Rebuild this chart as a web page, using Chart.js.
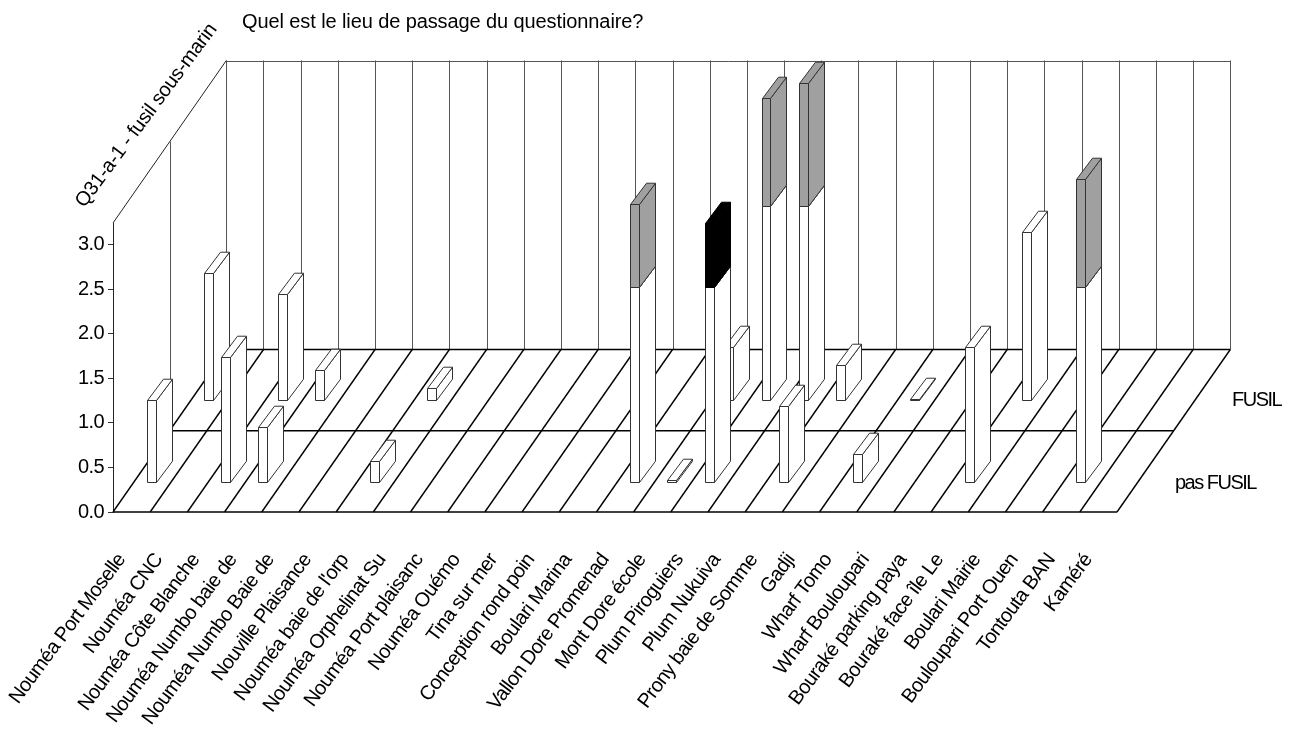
<!DOCTYPE html>
<html>
<head>
<meta charset="utf-8">
<title>Quel est le lieu de passage du questionnaire?</title>
<script src="https://cdn.jsdelivr.net/npm/chart.js@4/dist/chart.umd.js"></script>
<style>
  body { margin: 0; background: #fff; }
  #wrap { width: 1290px; height: 731px; }
</style>
</head>
<body>
<div id="wrap"><canvas id="chart" width="1290" height="731"></canvas></div>
<script>
const categories = [
  "Nouméa Port Moselle", "Nouméa CNC", "Nouméa Côte Blanche", "Nouméa Numbo baie de",
  "Nouméa Numbo Baie de", "Nouville Plaisance", "Nouméa baie de l'orp", "Nouméa Orphelinat Su",
  "Nouméa Port plaisanc", "Nouméa Ouémo", "Tina sur mer", "Conception rond poin",
  "Boulari Marina", "Vallon Dore Promenad", "Mont Dore école", "Plum Piroguiers",
  "Plum Nukuiva", "Prony baie de Somme", "Gadji", "Wharf Tomo", "Wharf Bouloupari",
  "Bouraké parking paya", "Bouraké face île Le", "Boulari Mairie", "Bouloupari Port Ouen",
  "Tontouta BAN", "Kaméré"
];
const rowLabels = ["pas FUSIL", "FUSIL"];
const chartTitle = "Quel est le lieu de passage du questionnaire?";
const depthTitle = "Q31-a-1 - fusil sous-marin";

// values per place, front row = pas FUSIL, back row = FUSIL
const _ = null;
const frontWhite = [0.92, _, 1.41, 0.62, _, _, 0.24, _, _, _, _, _, _, 2.19, 0.02, 2.19, _, 0.86, _, 0.32, _, _, 1.52, _, _, 2.19, _];
const frontGray  = [_, _, _, _, _, _, _, _, _, _, _, _, _, 0.94, _, _, _, _, _, _, _, _, _, _, _, 1.21, _];
const frontBlack = [_, _, _, _, _, _, _, _, _, _, _, _, _, _, _, 0.72, _, _, _, _, _, _, _, _, _, _, _];
const backWhite  = [1.43, _, 1.20, 0.34, _, _, 0.14, _, _, _, _, _, _, _, 0.60, 2.19, 2.19, 0.40, _, 0.02, _, _, 1.89, _, _, _, _];
const backGray   = [_, _, _, _, _, _, _, _, _, _, _, _, _, _, _, 1.21, 1.38, _, _, _, _, _, _, _, _, _, _];

const yTop = 3.245;
const depthX = 113.3, depthY = 162.5;   // floor vector, front edge to back edge
const barDepthX = 0.141, barDepthY = 0.131;  // share of the floor depth
const rowFront = 0.183, rowBack = 0.685;
const family = '"Liberation Sans", Arial, sans-serif';
const font = "20px " + family;

const snap = v => Math.round(v) + 0.5;

function line(ctx, x1, y1, x2, y2) {
  ctx.beginPath();
  ctx.moveTo(x1, y1);
  ctx.lineTo(x2, y2);
  ctx.stroke();
}

function poly(ctx, pts, fill, edge) {
  ctx.beginPath();
  pts.forEach((p, i) => i ? ctx.lineTo(p[0], p[1]) : ctx.moveTo(p[0], p[1]));
  ctx.closePath();
  ctx.fillStyle = fill;
  ctx.fill();
  ctx.strokeStyle = edge;
  ctx.stroke();
}

// bar with a side and a top face, placed on its row of the floor
class PrismController extends Chart.BarController {
  draw() {
    const ctx = this.chart.ctx;
    const ds = this.getDataset();
    const dx = barDepthX * depthX, dy = barDepthY * depthY;
    ctx.save();
    ctx.lineWidth = 1;
    this._cachedMeta.data.forEach((bar, i) => {
      if (ds.data[i] == null) return;
      const mid = bar.x - 1 + ds.row * depthX;
      const x0 = snap(mid - bar.width / 2);
      const x1 = snap(mid + bar.width / 2);
      const top = snap(bar.y - ds.row * depthY);
      const bot = snap(bar.base - ds.row * depthY);
      const x2 = snap(x1 + dx);
      poly(ctx, [[x1, top], [x2, top - dy], [x2, bot - dy], [x1, bot]], ds.backgroundColor, ds.borderColor);
      poly(ctx, [[x0, top], [x0 + dx, top - dy], [x2, top - dy], [x1, top]], ds.backgroundColor, ds.borderColor);
      poly(ctx, [[x0, top], [x1, top], [x1, bot], [x0, bot]], ds.backgroundColor, ds.borderColor);
    });
    ctx.restore();
  }
}
PrismController.id = "prism";
PrismController.defaults = Chart.BarController.defaults;
Chart.register(PrismController);

// walls, floor and the texts that have no axis of their own
const roomPlugin = {
  id: "room",
  beforeDraw(chart) {
    chart.ctx.letterSpacing = "-0.6px";
  },
  beforeDatasetsDraw(chart) {
    const { ctx, scales: { x, y } } = chart;
    const floor = y.getPixelForValue(0), top = y.getPixelForValue(yTop);
    const left = x.getPixelForValue(-0.5), right = x.getPixelForValue(categories.length - 0.5);
    ctx.save();

    ctx.strokeStyle = "#555";
    ctx.lineWidth = 1;
    for (let i = 0; i <= categories.length; i++) {
      const px = snap(x.getPixelForValue(i - 0.5) + depthX);
      line(ctx, px, floor - depthY, px, top - depthY);
    }
    line(ctx, left + depthX, snap(top - depthY), right + depthX, snap(top - depthY));
    line(ctx, snap(left + depthX / 2), floor - depthY / 2, snap(left + depthX / 2), top - depthY / 2);
    ctx.strokeStyle = "#222";
    line(ctx, left, top, left + depthX, top - depthY);

    ctx.strokeStyle = "#000";
    ctx.lineWidth = 1.4;
    for (let i = 0; i <= categories.length; i++) {
      const px = x.getPixelForValue(i - 0.5);
      line(ctx, px, floor, px + depthX, floor - depthY);
    }
    line(ctx, left, floor, right, floor);
    line(ctx, left + depthX / 2, floor - depthY / 2, right + depthX / 2, floor - depthY / 2);
    line(ctx, left + depthX, floor - depthY, right + depthX, floor - depthY);
    ctx.restore();
  },
  afterDraw(chart) {
    const ctx = chart.ctx;
    ctx.save();
    ctx.font = font;
    ctx.fillStyle = "#000";
    ctx.textBaseline = "middle";
    ctx.textAlign = "left";
    ctx.letterSpacing = "-0.1px";
    ctx.fillText(chartTitle, 242, 22);
    ctx.letterSpacing = "-1.5px";
    ctx.fillText(rowLabels[1], 1232, 400);
    ctx.fillText(rowLabels[0], 1175, 483);

    ctx.letterSpacing = "-0.3px";
    ctx.translate(213, 26);
    ctx.rotate(-53.4 * Math.PI / 180);
    ctx.textAlign = "right";
    ctx.fillText(depthTitle, 0, 0);
    ctx.restore();
  }
};

const span = (lower, heights) => heights.map((h, i) => h == null ? null : [lower ? lower[i] : 0, (lower ? lower[i] : 0) + h]);

function series(label, data, row, fill, edge, order) {
  return {
    type: "prism", label, data, row, order,
    backgroundColor: fill, borderColor: edge,
    grouped: false, barPercentage: 0.3, clip: false
  };
}

new Chart(document.getElementById("chart"), {
  type: "bar",
  data: {
    labels: categories,
    datasets: [
      series("pas FUSIL gris", span(frontWhite, frontGray), rowFront, "#a0a0a0", "#333", 1),
      series("pas FUSIL noir", span(frontWhite, frontBlack), rowFront, "#000", "#000", 1),
      series("pas FUSIL", span(null, frontWhite), rowFront, "#fff", "#333", 2),
      series("FUSIL gris", span(backWhite, backGray), rowBack, "#a0a0a0", "#333", 3),
      series("FUSIL", span(null, backWhite), rowBack, "#fff", "#333", 4)
    ]
  },
  plugins: [roomPlugin],
  options: {
    responsive: false,
    animation: false,
    layout: { padding: { top: 223, right: 173, left: 0, bottom: 0 } },
    plugins: { legend: { display: false }, title: { display: false }, tooltip: { enabled: false } },
    scales: {
      x: {
        type: "category",
        offset: true,
        afterFit: s => { s.height = 219; s.paddingLeft = 0; s.paddingRight = 0; },
        grid: { display: false },
        border: { display: false },
        ticks: {
          autoSkip: false,
          minRotation: 53.4,
          maxRotation: 53.4,
          padding: 29,
          labelOffset: -10,
          color: "#000",
          font: { family, size: 20 }
        }
      },
      y: {
        min: 0,
        max: yTop,
        afterFit: s => { s.width = 113; },
        grid: { drawOnChartArea: false, tickLength: 5, color: "#333" },
        border: { color: "#222" },
        ticks: {
          stepSize: 0.5,
          includeBounds: false,
          padding: 4,
          color: "#000",
          font: { family, size: 20 },
          callback: v => v.toFixed(1)
        }
      }
    }
  }
});
</script>
</body>
</html>
